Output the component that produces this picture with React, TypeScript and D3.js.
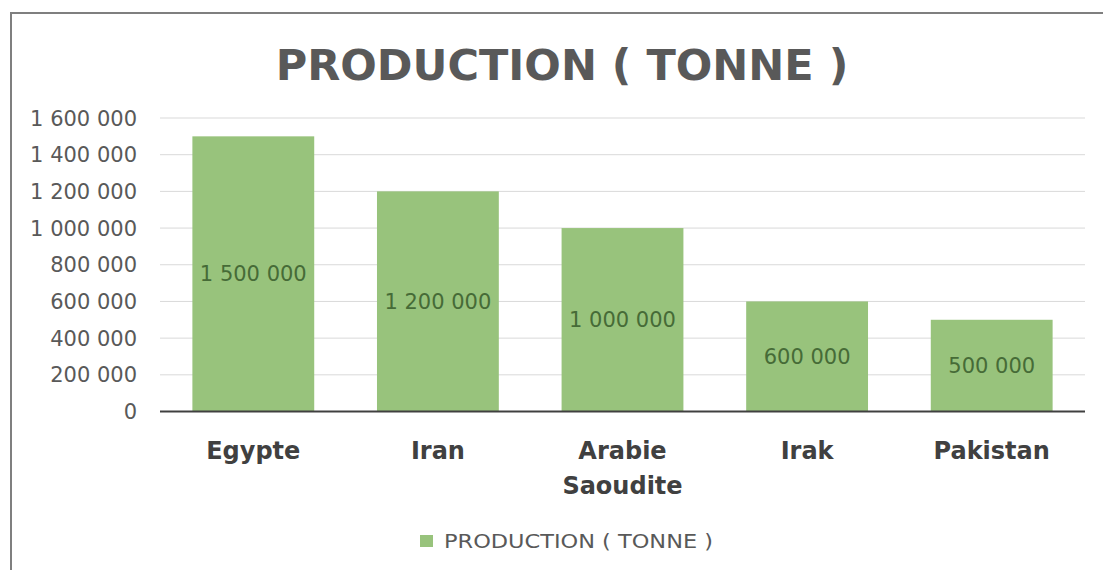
import React from "react";
import * as d3 from "d3";

const categories = ["Egypte", "Iran", "Arabie Saoudite", "Irak", "Pakistan"];
const production = [1500000, 1200000, 1000000, 600000, 500000];
const yTicks = [0, 200000, 400000, 600000, 800000, 1000000, 1200000, 1400000, 1600000];
const title = "PRODUCTION ( TONNE )";
const seriesName = "PRODUCTION ( TONNE )";

const W = 1103;
const H = 570;
const FONT = "'DejaVu Sans', Verdana, sans-serif";

const fr = d3.formatLocale({ decimal: ",", thousands: " ", grouping: [3], currency: ["", ""] });
const fmt = fr.format(",");

export default function App() {
  const x = d3.scaleBand<string>().domain(categories).range([161, 1084]).paddingInner(0.34).paddingOuter(0.17);
  const y = d3.scaleLinear().domain([0, 1600000]).range([411.5, 118]);

  return (
    <svg width={W} height={H} style={{ position: "absolute", left: 0, top: 0, background: "#fff" }} fontFamily={FONT}>
      <rect x={0} y={0} width={W} height={H} fill="#fff" />
      {/* chart border */}
      <rect x={11} y={13} width={W + 20} height={H + 20} fill="none" stroke="#7f7f7f" strokeWidth={2} />
      {/* title */}
      <text x={562} y={80} textAnchor="middle" fontSize={43} fontWeight="bold" fill="#595959">
        {title}
      </text>
      {/* gridlines */}
      {yTicks.map((t) => (
        <line key={"g" + t} x1={160} x2={1085} y1={y(t)} y2={y(t)} stroke="#d9d9d9" strokeWidth={1} />
      ))}
      {/* y tick labels */}
      {yTicks.map((t) => (
        <text key={"t" + t} x={137} y={y(t)} dy="0.36em" textAnchor="end" fontSize={21} fill="#595959">
          {fmt(t)}
        </text>
      ))}
      {/* bars */}
      {categories.map((c, i) => (
        <rect key={"b" + c} x={x(c)} y={y(production[i])} width={x.bandwidth()} height={y(0) - y(production[i])} fill="#98c37c" />
      ))}
      {/* data labels */}
      {categories.map((c, i) => (
        <text
          key={"l" + c}
          x={(x(c) as number) + x.bandwidth() / 2}
          y={(y(production[i]) + y(0)) / 2}
          dy="0.36em"
          textAnchor="middle"
          fontSize={21}
          fill="#466b37"
        >
          {fmt(production[i])}
        </text>
      ))}
      {/* baseline */}
      <line x1={160} x2={1085} y1={y(0)} y2={y(0)} stroke="#404040" strokeWidth={2} />
      {/* category labels */}
      {categories.map((c) => (
        <text key={"c" + c} x={(x(c) as number) + x.bandwidth() / 2} y={459} textAnchor="middle" fontSize={24} fontWeight="bold" fill="#404040">
          {c.split(" ").map((w, j) => (
            <tspan key={j} x={(x(c) as number) + x.bandwidth() / 2} dy={j === 0 ? 0 : 35}>
              {w}
            </tspan>
          ))}
        </text>
      ))}
      {/* legend */}
      <rect x={420} y={535} width={13} height={12} fill="#98c37c" />
      <text x={444} y={548} fontSize={19} fill="#595959" textLength={269} lengthAdjust="spacingAndGlyphs">
        {seriesName}
      </text>
    </svg>
  );
}
